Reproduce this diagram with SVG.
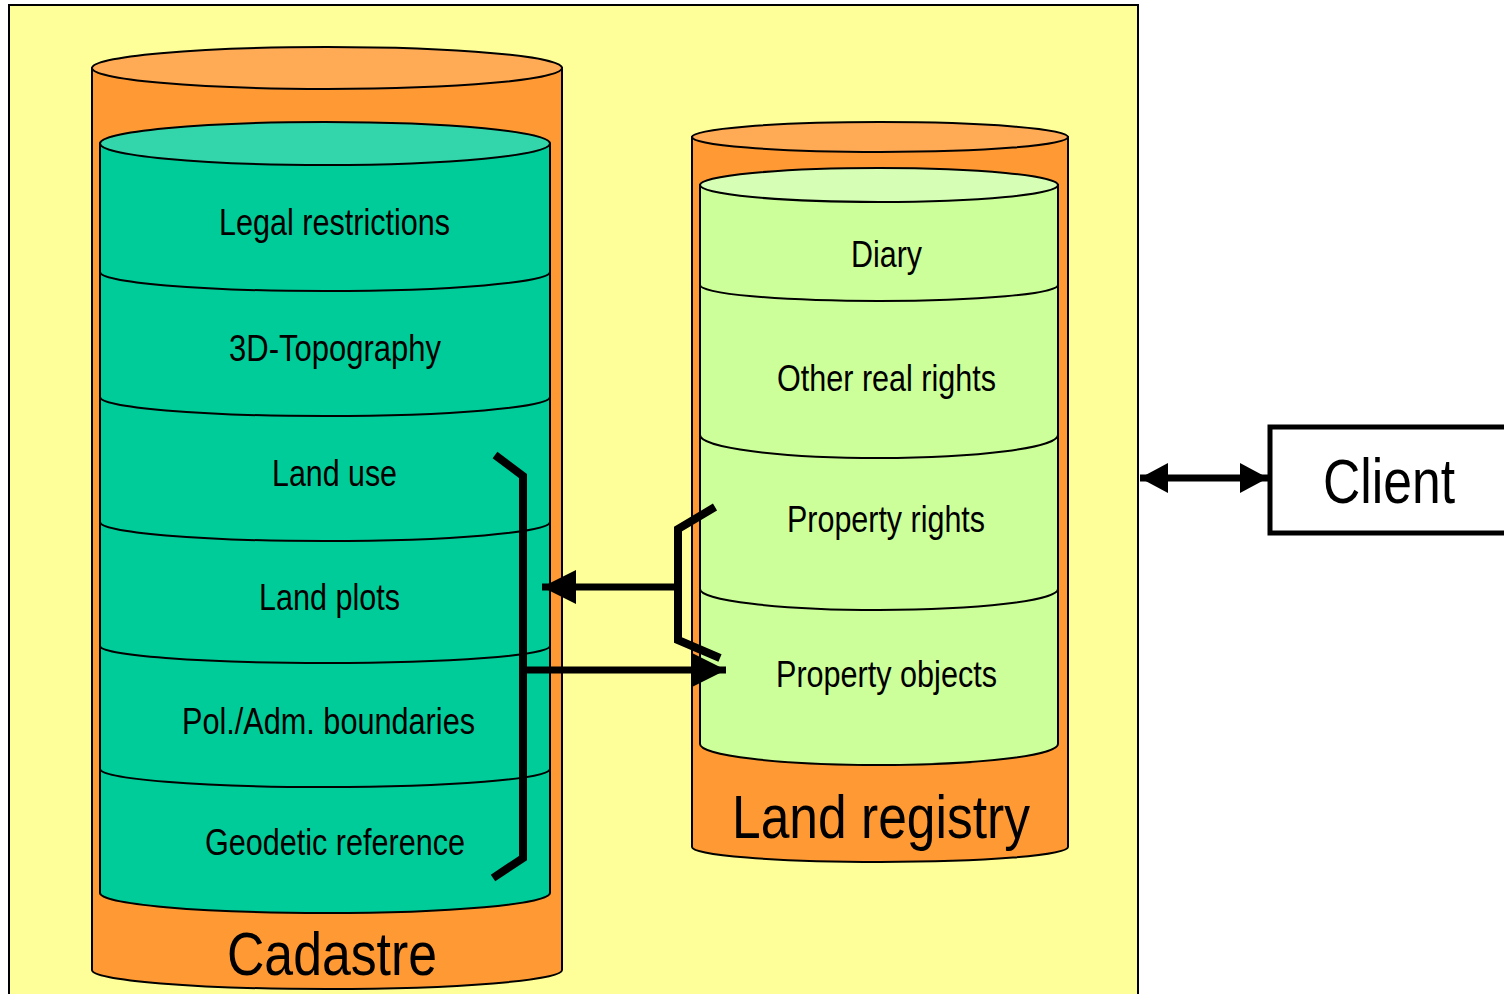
<svg xmlns="http://www.w3.org/2000/svg" width="1504" height="994" viewBox="0 0 1504 994">
<defs>
<style>
.frame{fill:#FFFF99;stroke:#000;stroke-width:2}
.ob{fill:#FF9933;stroke:#000;stroke-width:2}
.ot{fill:#FFAA55;stroke:#000;stroke-width:2}
.tb{fill:#00CC99;stroke:#000;stroke-width:2}
.tt{fill:#33D6AA;stroke:#000;stroke-width:2}
.gb{fill:#CCFF99;stroke:#000;stroke-width:2}
.gt{fill:#D6FFB5;stroke:#000;stroke-width:2}
.sep{fill:none;stroke:#000;stroke-width:2}
.lbl{font-family:"Liberation Sans Narrow","Arial Narrow","Liberation Sans",sans-serif;font-size:37px;fill:#000;text-anchor:middle}
.big{font-family:"Liberation Sans Narrow","Arial Narrow","Liberation Sans",sans-serif;font-size:62px;fill:#000;text-anchor:middle}
.thick{fill:none;stroke:#000;stroke-width:8;stroke-linejoin:miter}
.arr{fill:none;stroke:#000;stroke-width:7}
</style>
<marker id="ah" viewBox="0 0 34 34" refX="34" refY="17" markerWidth="34" markerHeight="34" markerUnits="userSpaceOnUse" orient="auto-start-reverse">
<path d="M0,0 L34,17 L0,34 Z" fill="#000"/>
</marker>
<marker id="ah2" viewBox="0 0 28 30" refX="28" refY="15" markerWidth="28" markerHeight="30" markerUnits="userSpaceOnUse" orient="auto-start-reverse">
<path d="M0,0 L28,15 L0,30 Z" fill="#000"/>
</marker>
</defs>
<rect x="0" y="0" width="1504" height="994" fill="#fff"/>
<rect id="frame" class="frame" x="9" y="5" width="1129" height="1000"/>

<g id="cadastre">
<path class="ob" d="M92,68 L92,970 A235,19 0 0 0 562,970 L562,68 Z"/>
<ellipse class="ot" cx="327" cy="68" rx="235" ry="21"/>
<text class="big" x="332" y="975" textLength="210" lengthAdjust="spacingAndGlyphs">Cadastre</text>
</g>
<g id="cadastre-layers">
<path class="tb" d="M100,143.5 L100,893 A225,20 0 0 0 550,893 L550,143.5 Z"/>
<ellipse class="tt" cx="325" cy="143.5" rx="225" ry="21.5"/>
<path class="sep" d="M100,272 A225,19 0 0 0 550,272"/>
<path class="sep" d="M100,397 A225,19 0 0 0 550,397"/>
<path class="sep" d="M100,522 A225,19 0 0 0 550,522"/>
<path class="sep" d="M100,646 A225,17 0 0 0 550,646"/>
<path class="sep" d="M100,769 A225,18 0 0 0 550,769"/>
</g>
<g id="legal-restrictions"><text class="lbl" x="334.5" y="235" textLength="231" lengthAdjust="spacingAndGlyphs">Legal restrictions</text></g>
<g id="topography"><text class="lbl" x="335" y="361" textLength="212" lengthAdjust="spacingAndGlyphs">3D-Topography</text></g>
<g id="land-use"><text class="lbl" x="334.5" y="486" textLength="125" lengthAdjust="spacingAndGlyphs">Land use</text></g>
<g id="land-plots"><text class="lbl" x="329.5" y="610" textLength="141" lengthAdjust="spacingAndGlyphs">Land plots</text></g>
<g id="boundaries"><text class="lbl" x="328.5" y="734" textLength="293" lengthAdjust="spacingAndGlyphs">Pol./Adm. boundaries</text></g>
<g id="geodetic"><text class="lbl" x="335" y="855" textLength="260" lengthAdjust="spacingAndGlyphs">Geodetic reference</text></g>

<g id="land-registry">
<path class="ob" d="M692,137 L692,847 A188,15 0 0 0 1068,847 L1068,137 Z"/>
<ellipse class="ot" cx="880" cy="137" rx="188" ry="15"/>
<text class="big" x="881" y="838" textLength="298" lengthAdjust="spacingAndGlyphs">Land registry</text>
</g>
<g id="registry-layers">
<path class="gb" d="M700,185 L700,744 A179,21 0 0 0 1058,744 L1058,185 Z"/>
<ellipse class="gt" cx="879" cy="185" rx="179" ry="17"/>
<path class="sep" d="M700,285 A179,16 0 0 0 1058,285"/>
<path class="sep" d="M700,435 A179,23 0 0 0 1058,435"/>
<path class="sep" d="M700,589 A179,21 0 0 0 1058,589"/>
</g>
<g id="diary"><text class="lbl" x="886.5" y="267" textLength="71" lengthAdjust="spacingAndGlyphs">Diary</text></g>
<g id="other-real-rights"><text class="lbl" x="886.5" y="391" textLength="219" lengthAdjust="spacingAndGlyphs">Other real rights</text></g>
<g id="property-rights"><text class="lbl" x="886" y="532" textLength="198" lengthAdjust="spacingAndGlyphs">Property rights</text></g>
<g id="property-objects"><text class="lbl" x="886.5" y="687" textLength="221" lengthAdjust="spacingAndGlyphs">Property objects</text></g>

<g id="client">
<rect x="1270" y="427" width="250" height="106" fill="#fff" stroke="#000" stroke-width="5"/>
<text x="1323" y="503" font-family="'Liberation Sans Narrow','Arial Narrow','Liberation Sans',sans-serif" font-size="63" fill="#000" textLength="132" lengthAdjust="spacingAndGlyphs">Client</text>
</g>

<g id="connectors">
<polyline class="thick" points="495,455 523,476 523,858 493,878"/>
<polyline class="thick" points="715,507 678,529 678,640 720,658"/>
<line class="arr" x1="523" y1="670" x2="726" y2="670" marker-end="url(#ah)"/>
<line class="arr" x1="678" y1="587" x2="542" y2="587" marker-end="url(#ah)"/>
<line class="arr" x1="1140" y1="478" x2="1268" y2="478" stroke-width="5" marker-start="url(#ah2)" marker-end="url(#ah2)"/>
</g>
</svg>
